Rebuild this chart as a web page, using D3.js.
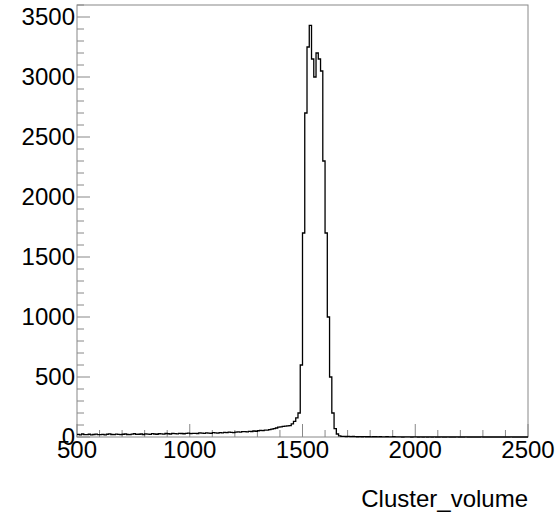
<!DOCTYPE html>
<html><head><meta charset="utf-8">
<script src="https://cdn.jsdelivr.net/npm/d3@7"></script>
<style>body{margin:0;background:#fff}text{font-family:"Liberation Sans",Arial,sans-serif}</style>
</head><body><div id="viz"></div>
<script>
// histogram: bins of width 10 starting at binStart
var binStart = 500, binWidth = 10;
var baseCounts = [
 22,18,25,20,19,23,17,21,24,20, 19,22,18,23,26,21,20,24,22,19,
 23,25,21,20,24,27,22,23,25,21, 26,24,22,28,25,23,27,26,24,29,
 27,25,30,28,26,31,29,27,30,33, 28,31,30,29,34,32,30,35,33,31,
 36,34,33,37,35,38,36,40,39,37, 41,43,40,45,44,42,47,46,50,48,
 52,55,53,58,57,62,66,70,75,82, 85,88,90,92
];
var peakCounts = [95,110,130,160,200,600,1700,2700,3250,3430,
 3150,3000,3200,3150,3050,2300,1700,1000,500,200,
 70,25,10];
var tailCounts = [
 6,5,4,5,3,4,3,2,3,2, 3,2,2,1,2,2,1,2,1,1,
 2,1,1,2,1,1,1,0,1,1, 1,0,1,1,0,1,0,1,0,1,
 0,1,0,0,1,0,0,1,0,0, 0,1,0,0,0,1,0,0,0,0,
 0,0,1,0,0,0,0,0,0,0, 0,0,0,0,0,1,0,0,0,0,
 0,0,0
];
var counts = baseCounts.concat(peakCounts, tailCounts);
var xTicks = [500, 1000, 1500, 2000, 2500];
var yTicks = [0, 500, 1000, 1500, 2000, 2500, 3000, 3500];
var xTitle = "Cluster_volume";

var width = 558, height = 518;
var pLeft = 77, pRight = 528, pTop = 5, pBottom = 437;

var svg = d3.select("#viz").append("svg")
    .attr("width", width)
    .attr("height", height);

var x = d3.scaleLinear().domain([500, 2500]).range([pLeft, pRight]);
var y = d3.scaleLinear().domain([0, 3600]).range([pBottom, pTop]);

// frame
svg.append("rect")
    .attr("x", pLeft).attr("y", pTop)
    .attr("width", pRight - pLeft).attr("height", pBottom - pTop)
    .attr("fill", "none").attr("stroke", "#888").attr("stroke-width", 1);

// ticks inside frame
var gx = svg.append("g");
d3.range(500, 2501, 100).forEach(function(v) {
  var major = v % 500 == 0;
  gx.append("line").attr("x1", x(v)).attr("x2", x(v))
    .attr("y1", pBottom).attr("y2", pBottom - (major ? 13 : 7))
    .attr("stroke", "#888");
});
var gy = svg.append("g");
d3.range(0, 3601, 100).forEach(function(v) {
  var major = v % 500 == 0;
  gy.append("line").attr("y1", y(v)).attr("y2", y(v))
    .attr("x1", pLeft).attr("x2", pLeft + (major ? 13 : 7))
    .attr("stroke", "#888");
});

svg.selectAll(".xl").data(xTicks).enter().append("text")
    .attr("x", function(d) { return x(d); })
    .attr("y", pBottom + 21)
    .attr("text-anchor", "middle")
    .attr("font-size", 24)
    .text(function(d) { return d; });

svg.selectAll(".yl").data(yTicks).enter().append("text")
    .attr("x", pLeft - 2)
    .attr("y", function(d) { return y(d) + 8; })
    .attr("text-anchor", "end")
    .attr("font-size", 24)
    .text(function(d) { return d; });

svg.append("text")
    .attr("x", pRight).attr("y", 507)
    .attr("text-anchor", "end")
    .attr("font-size", 24)
    .text(xTitle);

// step line
var pts = [];
counts.forEach(function(c, i) {
  var x0 = binStart + i * binWidth;
  pts.push([x0, c]);
  pts.push([x0 + binWidth, c]);
});
svg.append("path")
    .attr("d", d3.line().x(function(d) { return x(d[0]); }).y(function(d) { return y(d[1]); })(pts))
    .attr("fill", "none").attr("stroke", "#000").attr("stroke-width", 1.3);
</script></body></html>
